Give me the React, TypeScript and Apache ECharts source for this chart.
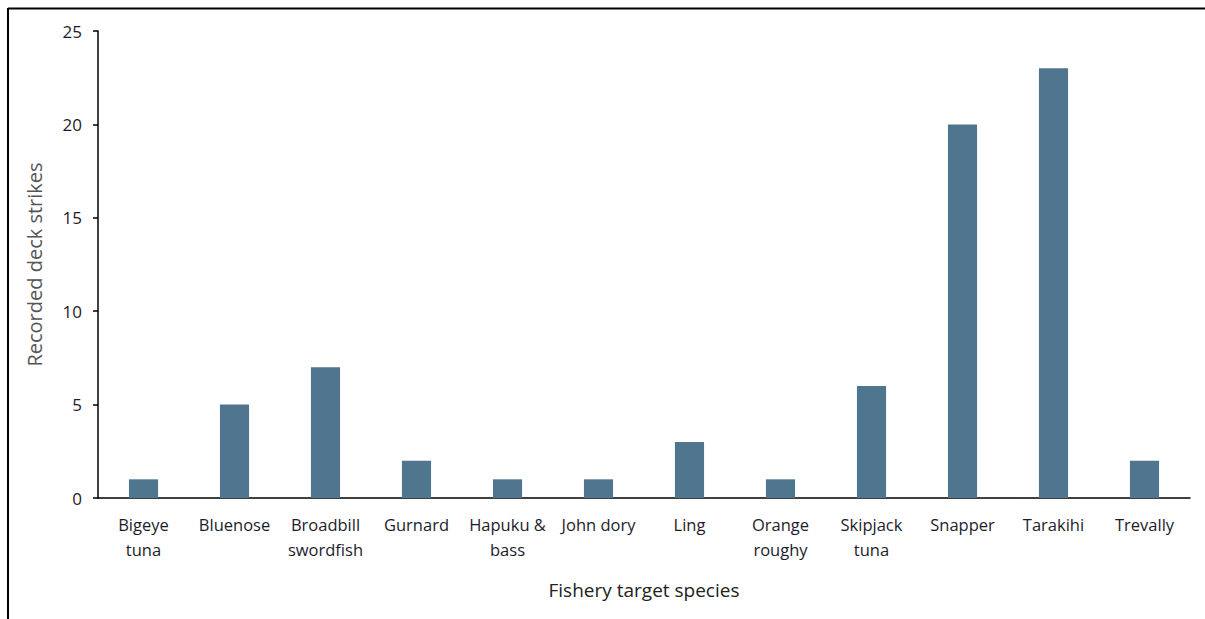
import React, { useEffect, useRef } from "react";
import * as echarts from "echarts";

const categories = [
  "Bigeye\ntuna",
  "Bluenose",
  "Broadbill\nswordfish",
  "Gurnard",
  "Hapuku &\nbass",
  "John dory",
  "Ling",
  "Orange\nroughy",
  "Skipjack\ntuna",
  "Snapper",
  "Tarakihi",
  "Trevally",
];
const strikes = [1, 5, 7, 2, 1, 1, 3, 1, 6, 20, 23, 2];
const yTicks = [0, 5, 10, 15, 20, 25];

const FONT = "'Open Sans', 'Liberation Sans', sans-serif";

export default function App() {
  const ref = useRef<HTMLDivElement>(null);
  useEffect(() => {
    if (!ref.current) return;
    const chart = echarts.init(ref.current, null, { renderer: "svg" });
    chart.setOption({
      animation: false,
      backgroundColor: "#ffffff",
      grid: { left: 98, top: 31, right: 15, bottom: 121, containLabel: false },
      xAxis: {
        type: "category",
        data: categories,
        name: "Fishery target species",
        nameLocation: "middle",
        nameGap: 82,
        nameTextStyle: { fontFamily: FONT, fontSize: 19, color: "#222" },
        axisLine: { lineStyle: { color: "#000", width: 1.5 } },
        axisTick: { show: false },
        axisLabel: {
          fontFamily: FONT,
          fontSize: 16.5,
          color: "#1c1c2c",
          lineHeight: 25,
          margin: 14,
          interval: 0,
        },
      },
      yAxis: {
        type: "value",
        min: 0,
        max: 25,
        interval: 5,
        name: "Recorded deck strikes",
        nameLocation: "middle",
        nameGap: 54,
        nameTextStyle: { fontFamily: FONT, fontSize: 20, color: "#555" },
        axisLine: { show: true, lineStyle: { color: "#000", width: 1.5 } },
        axisTick: { show: true, inside: false, length: 5, lineStyle: { color: "#000", width: 1.5 } },
        splitLine: { show: false },
        axisLabel: {
          fontFamily: FONT,
          fontSize: 17,
          color: "#1c1c2c",
          margin: 16,
          formatter: (v: number) => (yTicks.includes(v) ? String(v) : ""),
        },
      },
      series: [
        {
          type: "bar",
          data: strikes,
          barWidth: "32%",
          itemStyle: { color: "#50768f" },
        },
      ],
      graphic: [
        {
          type: "line",
          shape: { x1: 8, y1: 8.5, x2: 1205, y2: 8.5 },
          style: { stroke: "#000", lineWidth: 2 },
        },
        {
          type: "line",
          shape: { x1: 8, y1: 8, x2: 8, y2: 619 },
          style: { stroke: "#000", lineWidth: 2 },
        },
      ],
    });
    return () => chart.dispose();
  }, []);
  return (
    <div
      ref={ref}
      style={{ position: "fixed", left: 0, top: 0, width: 1205, height: 619 }}
    />
  );
}
